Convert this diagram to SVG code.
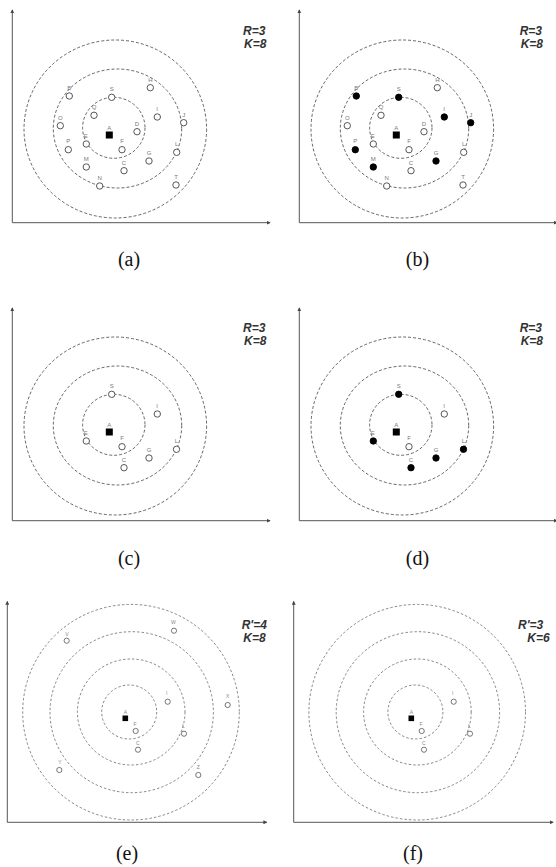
<svg xmlns="http://www.w3.org/2000/svg" width="556" height="867" viewBox="0 0 556 867">
<style>
.bg{fill:#fff}
.ax{stroke:#555;stroke-width:1;fill:none}
.ring{fill:none;stroke:#333;stroke-width:0.75;stroke-dasharray:3 2}
.ring2{fill:none;stroke:#555;stroke-width:0.7;stroke-dasharray:2.5 2}
.pt{fill:#fff;stroke:#444;stroke-width:0.9}
.pts{fill:#fff;stroke:#555;stroke-width:0.8}
.on{fill:#000;stroke:#000}
.sq{fill:#000}
.lb{font-family:"Liberation Sans",Arial,sans-serif;font-size:6px;fill:#777;text-anchor:middle}
.lbs{font-family:"Liberation Sans",Arial,sans-serif;font-size:5px;fill:#888;text-anchor:middle}
.par{font-family:"Liberation Sans",Arial,sans-serif;font-size:12px;font-weight:bold;font-style:italic;fill:#333}
.cap{font-family:"Liberation Serif","Times New Roman",serif;font-size:20px;fill:#111;text-anchor:middle}
</style>
<defs>
<marker id="arr" viewBox="0 0 6 6" refX="5" refY="3" markerWidth="4" markerHeight="4" orient="auto" markerUnits="userSpaceOnUse">
<path d="M0,0 L6,3 L0,6 z" fill="#444"/>
</marker>
<g id="axesAB">
<path class="ax" d="M12.3,222.7 L12.3,10" marker-end="url(#arr)"/>
<path class="ax" d="M12.3,222.7 L270,222.7" marker-end="url(#arr)"/>
</g>
<g id="ringsAB">
<ellipse class="ring" cx="115.3" cy="129" rx="91.3" ry="89"/>
<ellipse class="ring" cx="117.5" cy="128.5" rx="64.2" ry="59.5"/>
<ellipse class="ring" cx="113.8" cy="127.8" rx="31.2" ry="30.5"/>
</g>
<g id="axesE">
<path class="ax" d="M7.3,822.3 L7.3,601.5" marker-end="url(#arr)"/>
<path class="ax" d="M7.3,822.3 L266.7,822.3" marker-end="url(#arr)"/>
</g>
<g id="ringsE">
<ellipse class="ring2" cx="131" cy="712.2" rx="108.3" ry="107.8"/>
<ellipse class="ring2" cx="131.7" cy="712.2" rx="81.7" ry="80.5"/>
<ellipse class="ring2" cx="131.2" cy="712" rx="53.8" ry="53"/>
<ellipse class="ring2" cx="129.2" cy="712" rx="27.5" ry="27"/>
</g>
</defs>
<rect class="bg" x="0" y="0" width="556" height="867"/>

<!-- connectors: axes and range rings -->
<g id="connectors">
<use href="#axesAB"/>
<use href="#axesAB" transform="translate(287,0)"/>
<use href="#axesAB" transform="translate(0,298)"/>
<use href="#axesAB" transform="translate(287,298)"/>
<use href="#axesE"/>
<use href="#axesE" transform="translate(286.4,0)"/>
<use href="#ringsAB"/>
<use href="#ringsAB" transform="translate(287,0)"/>
<use href="#ringsAB" transform="translate(0,297)"/>
<use href="#ringsAB" transform="translate(287,297)"/>
<use href="#ringsE"/>
<use href="#ringsE" transform="translate(286.2,0)"/>
</g>

<!-- panel (a) -->
<g id="panel-a">
<g id="a-B"><circle class="pt" cx="69.3" cy="96" r="3.2"/><text class="lb" x="69.3" y="90">B</text></g>
<g id="a-S"><circle class="pt" cx="111.7" cy="97.3" r="3.2"/><text class="lb" x="111.7" y="91.3">S</text></g>
<g id="a-H"><circle class="pt" cx="150.3" cy="87.7" r="3.2"/><text class="lb" x="150.3" y="81.7">H</text></g>
<g id="a-Q"><circle class="pt" cx="94" cy="115.3" r="3.2"/><text class="lb" x="94" y="109.3">Q</text></g>
<g id="a-I"><circle class="pt" cx="157.3" cy="117" r="3.2"/><text class="lb" x="157" y="111">I</text></g>
<g id="a-J"><circle class="pt" cx="183.7" cy="122.7" r="3.2"/><text class="lb" x="183.7" y="116.7">J</text></g>
<g id="a-O"><circle class="pt" cx="60.3" cy="125.7" r="3.2"/><text class="lb" x="60.3" y="119.7">O</text></g>
<g id="a-D"><circle class="pt" cx="137" cy="131.7" r="3.2"/><text class="lb" x="137" y="125.7">D</text></g>
<g id="a-A"><rect class="sq" x="105.8" y="131.5" width="7" height="7"/><text class="lb" x="109.3" y="129.5">A</text></g>
<g id="a-E"><circle class="pt" cx="86.3" cy="144" r="3.2"/><text class="lb" x="85.7" y="137.5">E</text></g>
<g id="a-F"><circle class="pt" cx="122" cy="149.7" r="3.2"/><text class="lb" x="122" y="143.3">F</text></g>
<g id="a-P"><circle class="pt" cx="68.3" cy="149.7" r="3.2"/><text class="lb" x="68.3" y="143.3">P</text></g>
<g id="a-L"><circle class="pt" cx="176.7" cy="152.3" r="3.2"/><text class="lb" x="176.7" y="146">L</text></g>
<g id="a-G"><circle class="pt" cx="149" cy="161" r="3.2"/><text class="lb" x="149" y="155">G</text></g>
<g id="a-M"><circle class="pt" cx="86.3" cy="167" r="3.2"/><text class="lb" x="86.3" y="161">M</text></g>
<g id="a-C"><circle class="pt" cx="124" cy="170.7" r="3.2"/><text class="lb" x="124" y="164.7">C</text></g>
<g id="a-N"><circle class="pt" cx="99.7" cy="186" r="3.2"/><text class="lb" x="99.7" y="180">N</text></g>
<g id="a-T"><circle class="pt" cx="176" cy="185" r="3.2"/><text class="lb" x="176" y="179">T</text></g>
<text class="par" x="243" y="34.5">R=3</text>
<text class="par" x="244" y="48">K=8</text>
<text class="cap" x="129" y="266">(a)</text>
</g>

<!-- panel (b) -->
<g id="panel-b">
<g id="b-B"><circle class="pt on" cx="356.3" cy="96" r="3.2"/><text class="lb" x="356.3" y="90">B</text></g>
<g id="b-S"><circle class="pt on" cx="398.7" cy="97.3" r="3.2"/><text class="lb" x="398.7" y="91.3">S</text></g>
<g id="b-H"><circle class="pt" cx="437.3" cy="87.7" r="3.2"/><text class="lb" x="437.3" y="81.7">H</text></g>
<g id="b-Q"><circle class="pt" cx="381" cy="115.3" r="3.2"/><text class="lb" x="381" y="109.3">Q</text></g>
<g id="b-I"><circle class="pt on" cx="444.3" cy="117" r="3.2"/><text class="lb" x="444" y="111">I</text></g>
<g id="b-J"><circle class="pt on" cx="470.7" cy="122.7" r="3.2"/><text class="lb" x="470.7" y="116.7">J</text></g>
<g id="b-O"><circle class="pt" cx="347.3" cy="125.7" r="3.2"/><text class="lb" x="347.3" y="119.7">O</text></g>
<g id="b-D"><circle class="pt" cx="424" cy="131.7" r="3.2"/><text class="lb" x="424" y="125.7">D</text></g>
<g id="b-A"><rect class="sq" x="392.8" y="131.5" width="7" height="7"/><text class="lb" x="396.3" y="129.5">A</text></g>
<g id="b-E"><circle class="pt" cx="373.3" cy="144" r="3.2"/><text class="lb" x="372.7" y="137.5">E</text></g>
<g id="b-F"><circle class="pt" cx="409" cy="149.7" r="3.2"/><text class="lb" x="409" y="143.3">F</text></g>
<g id="b-P"><circle class="pt on" cx="355.3" cy="149.7" r="3.2"/><text class="lb" x="355.3" y="143.3">P</text></g>
<g id="b-L"><circle class="pt" cx="463.7" cy="152.3" r="3.2"/><text class="lb" x="463.7" y="146">L</text></g>
<g id="b-G"><circle class="pt on" cx="436" cy="161" r="3.2"/><text class="lb" x="436" y="155">G</text></g>
<g id="b-M"><circle class="pt on" cx="373.3" cy="167" r="3.2"/><text class="lb" x="373.3" y="161">M</text></g>
<g id="b-C"><circle class="pt" cx="411" cy="170.7" r="3.2"/><text class="lb" x="411" y="164.7">C</text></g>
<g id="b-N"><circle class="pt" cx="386.7" cy="186" r="3.2"/><text class="lb" x="386.7" y="180">N</text></g>
<g id="b-T"><circle class="pt" cx="463" cy="185" r="3.2"/><text class="lb" x="463" y="179">T</text></g>
<text class="par" x="519.7" y="34.5">R=3</text>
<text class="par" x="520.7" y="48">K=8</text>
<text class="cap" x="417.5" y="266">(b)</text>
</g>

<!-- panel (c) -->
<g id="panel-c">
<g id="c-S"><circle class="pt" cx="111.7" cy="394.3" r="3.2"/><text class="lb" x="111.7" y="388.3">S</text></g>
<g id="c-I"><circle class="pt" cx="157.3" cy="414" r="3.2"/><text class="lb" x="157" y="408">I</text></g>
<g id="c-A"><rect class="sq" x="105.8" y="428.5" width="7" height="7"/><text class="lb" x="109.3" y="426.5">A</text></g>
<g id="c-E"><circle class="pt" cx="86.3" cy="441" r="3.2"/><text class="lb" x="85.7" y="434.5">E</text></g>
<g id="c-F"><circle class="pt" cx="122" cy="446.7" r="3.2"/><text class="lb" x="122" y="440.3">F</text></g>
<g id="c-L"><circle class="pt" cx="176.5" cy="449.3" r="3.2"/><text class="lb" x="176.5" y="443">L</text></g>
<g id="c-G"><circle class="pt" cx="149" cy="458" r="3.2"/><text class="lb" x="149" y="452">G</text></g>
<g id="c-C"><circle class="pt" cx="124" cy="467.7" r="3.2"/><text class="lb" x="124" y="461.7">C</text></g>
<text class="par" x="243" y="331.7">R=3</text>
<text class="par" x="244" y="345">K=8</text>
<text class="cap" x="129" y="565">(c)</text>
</g>

<!-- panel (d) -->
<g id="panel-d">
<g id="d-S"><circle class="pt on" cx="398.7" cy="394.3" r="3.2"/><text class="lb" x="398.7" y="388.3">S</text></g>
<g id="d-I"><circle class="pt" cx="444.3" cy="414" r="3.2"/><text class="lb" x="444" y="408">I</text></g>
<g id="d-A"><rect class="sq" x="392.8" y="428.5" width="7" height="7"/><text class="lb" x="396.3" y="426.5">A</text></g>
<g id="d-E"><circle class="pt on" cx="373.3" cy="441" r="3.2"/><text class="lb" x="372.7" y="434.5">E</text></g>
<g id="d-F"><circle class="pt" cx="409" cy="446.7" r="3.2"/><text class="lb" x="409" y="440.3">F</text></g>
<g id="d-L"><circle class="pt on" cx="463.5" cy="449.3" r="3.2"/><text class="lb" x="463.5" y="443">L</text></g>
<g id="d-G"><circle class="pt on" cx="436" cy="458" r="3.2"/><text class="lb" x="436" y="452">G</text></g>
<g id="d-C"><circle class="pt on" cx="411" cy="467.7" r="3.2"/><text class="lb" x="411" y="461.7">C</text></g>
<text class="par" x="519.7" y="331.7">R=3</text>
<text class="par" x="520.7" y="345">K=8</text>
<text class="cap" x="417.5" y="565">(d)</text>
</g>

<!-- panel (e) -->
<g id="panel-e">
<g id="e-W"><circle class="pts" cx="174" cy="630.7" r="2.6"/><text class="lbs" x="173.3" y="623.5">W</text></g>
<g id="e-V"><circle class="pts" cx="66.7" cy="640.7" r="2.6"/><text class="lbs" x="67" y="636">V</text></g>
<g id="e-I"><circle class="pts" cx="167.7" cy="701.7" r="2.6"/><text class="lbs" x="166.7" y="694.5">I</text></g>
<g id="e-X"><circle class="pts" cx="227.7" cy="705" r="2.6"/><text class="lbs" x="227.7" y="697.5">X</text></g>
<g id="e-A"><rect class="sq" x="122.5" y="715.5" width="5.6" height="5.6"/><text class="lbs" x="125.3" y="713.8">A</text></g>
<g id="e-F"><circle class="pts" cx="135.7" cy="731" r="2.6"/><text class="lbs" x="135" y="725.5">F</text></g>
<g id="e-L"><circle class="pts" cx="184" cy="733.7" r="2.6"/><text class="lbs" x="183.3" y="727.5">L</text></g>
<g id="e-C"><circle class="pts" cx="138" cy="749.7" r="2.6"/><text class="lbs" x="137.7" y="744.5">C</text></g>
<g id="e-Y"><circle class="pts" cx="59.3" cy="770" r="2.6"/><text class="lbs" x="60" y="764">Y</text></g>
<g id="e-Z"><circle class="pts" cx="198.3" cy="775" r="2.6"/><text class="lbs" x="198.3" y="769">Z</text></g>
<text class="par" x="241.7" y="629">R'=4</text>
<text class="par" x="243.3" y="641.7">K=8</text>
<text class="cap" x="127" y="860">(e)</text>
</g>

<!-- panel (f) -->
<g id="panel-f">
<g id="f-I"><circle class="pts" cx="453.7" cy="701.7" r="2.6"/><text class="lbs" x="452.7" y="694.5">I</text></g>
<g id="f-A"><rect class="sq" x="408.5" y="715.5" width="5.6" height="5.6"/><text class="lbs" x="411.3" y="713.8">A</text></g>
<g id="f-F"><circle class="pts" cx="421.7" cy="731" r="2.6"/><text class="lbs" x="421" y="725.5">F</text></g>
<g id="f-L"><circle class="pts" cx="470" cy="733.7" r="2.6"/><text class="lbs" x="469.3" y="727.5">L</text></g>
<g id="f-C"><circle class="pts" cx="424" cy="749.7" r="2.6"/><text class="lbs" x="423.7" y="744.5">C</text></g>
<text class="par" x="518" y="629">R'=3</text>
<text class="par" x="527.3" y="641.7">K=6</text>
<text class="cap" x="413" y="860">(f)</text>
</g>
</svg>
